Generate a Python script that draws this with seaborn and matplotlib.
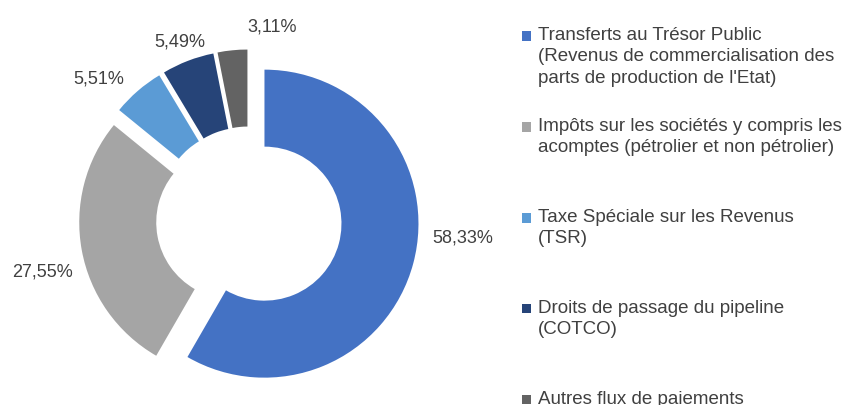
import matplotlib
matplotlib.use("Agg")
import matplotlib.pyplot as plt
import seaborn as sns
from matplotlib.legend_handler import HandlerPatch
from matplotlib.patches import Rectangle

sns.set_theme(style="white")
plt.rcParams["font.family"] = ["Liberation Sans", "DejaVu Sans"]

# Répartition des flux de paiements (%)
categories = [
    "Transferts au Trésor Public\n(Revenus de commercialisation des\nparts de production de l'Etat)",
    "Impôts sur les sociétés y compris les\nacomptes (pétrolier et non pétrolier)",
    "Taxe Spéciale sur les Revenus\n(TSR)",
    "Droits de passage du pipeline\n(COTCO)",
    "Autres flux de paiements",
]
shares = [58.33, 27.55, 5.51, 5.49, 3.11]
colors = ["#4472C4", "#A5A5A5", "#5B9BD5", "#264478", "#636363"]

pct_labels = [f"{v:.2f}".replace(".", ",") + "%" for v in shares]

TEXT = "#404040"
FS = 13
LEG_FS = 13.5
LINE_STEP = 1.147  # baseline-to-baseline, in font sizes
# nudges for the % labels (data units), Excel-like placement
label_nudge = [(0.0, 0.2), (0.07, -0.12), (0.0, -0.02), (0.16, 0.0), (0.43, 0.02)]


class FirstLineHandler(HandlerPatch):
    """Square marker aligned with the first line of a multi-line label."""

    def __init__(self, nlines):
        super().__init__()
        self.nlines = nlines

    def create_artists(self, legend, orig_handle, xdescent, ydescent,
                       width, height, fontsize, trans):
        side = 0.5 * fontsize
        y0 = -ydescent + (self.nlines - 1) / 2 * LINE_STEP * fontsize
        p = Rectangle((-xdescent, y0), side, side,
                      facecolor=orig_handle.get_facecolor(),
                      edgecolor="none", transform=trans)
        return [p]


W, H = 845, 405
cx, cy, R = 249, 185.5, 154  # pie centre / radius in pixels
fig = plt.figure(figsize=(W / 100, H / 100), dpi=100)
ax = fig.add_axes([0, 0, 1, 1])

wedges, texts = ax.pie(
    shares,
    colors=colors,
    labels=pct_labels,
    labeldistance=1.13,
    startangle=90,
    counterclock=False,
    explode=[0.104] * len(shares),
    radius=1,
    wedgeprops=dict(width=0.5, linewidth=0),
    textprops=dict(color=TEXT, fontsize=FS),
)
for t, (dx, dy) in zip(texts, label_nudge):
    x, y = t.get_position()
    t.set_position((x + dx, y + dy))

ax.set_xlim(-cx / R, (W - cx) / R)
ax.set_ylim(-cy / R, (H - cy) / R)
ax.set_aspect("equal")
ax.axis("off")

# Excel gives every legend entry the same slot: pad labels to 3 lines
nmax = max(c.count("\n") + 1 for c in categories)
leg_labels = [c + "\n" * (nmax - c.count("\n") - 1) for c in categories]
handler_map = {w: FirstLineHandler(nmax) for w in wedges}
leg = fig.legend(
    wedges, leg_labels,
    loc="upper left",
    bbox_to_anchor=(522 / W, 1 - 27 / H),
    frameon=False,
    fontsize=LEG_FS,
    borderpad=0,
    borderaxespad=0,
    handlelength=0.5,
    handleheight=0.5,
    handletextpad=0.35,
    labelspacing=1.66,
    handler_map=handler_map,
)
for t in leg.get_texts():
    t.set_color(TEXT)
    t.set_linespacing(1.34)

fig.savefig("out.png", dpi=100)
